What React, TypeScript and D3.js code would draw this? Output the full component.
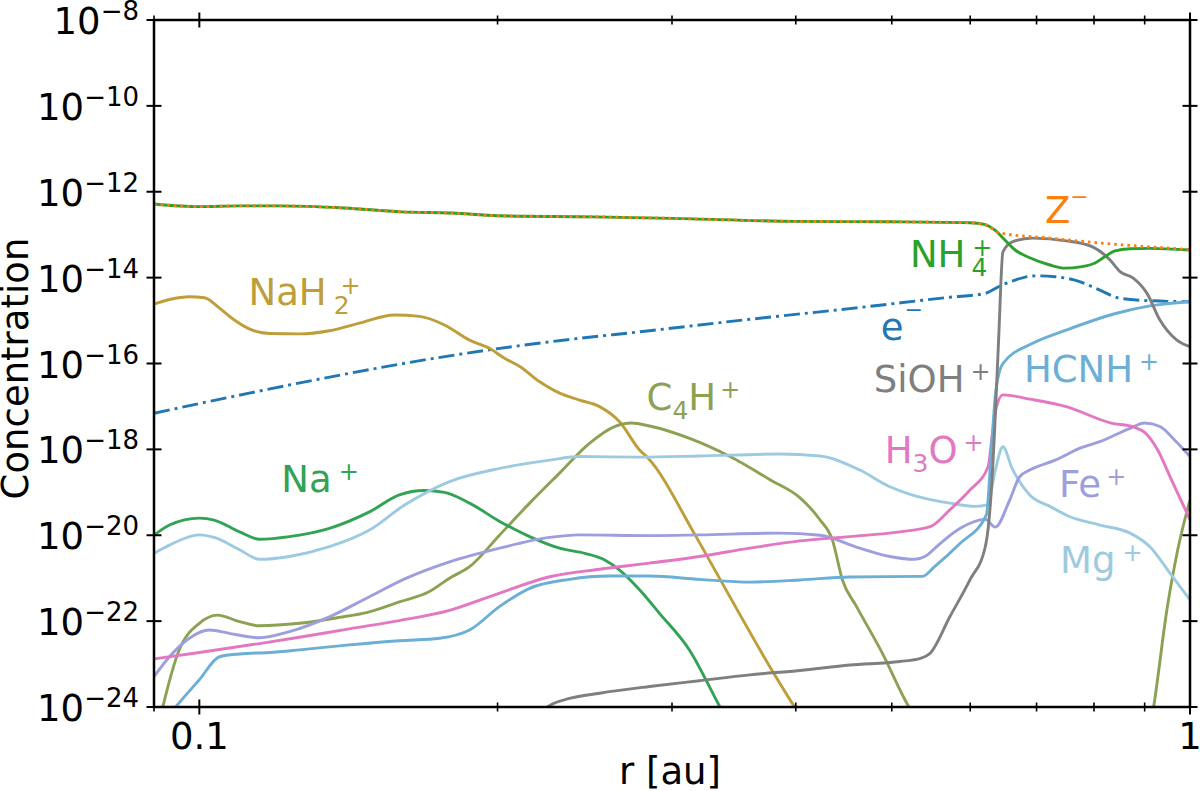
import React from 'react';
import * as d3 from 'd3';

type Pt = [number, number]; // [r in au, concentration]

// ---- data ----
const NH4: Pt[] = [
  [0.09, 5.2e-13], [0.1, 4.5e-13], [0.11, 4.7e-13], [0.12, 4.7e-13], [0.14, 4.2e-13],
  [0.16, 3.4e-13], [0.18, 3.2e-13], [0.2, 2.75e-13], [0.25, 2.6e-13], [0.3, 2.4e-13],
  [0.4, 2.04e-13], [0.5, 2.0e-13], [0.6, 1.9e-13], [0.62, 1.74e-13], [0.635, 1.29e-13],
  [0.65, 7.6e-14], [0.666, 4.4e-14], [0.689, 2.9e-14], [0.722, 1.97e-14], [0.748, 1.66e-14],
  [0.775, 1.78e-14], [0.802, 2.19e-14], [0.821, 3.1e-14], [0.84, 4.2e-14], [0.87, 4.7e-14],
  [0.911, 4.8e-14], [1.0, 4.4e-14],
];

const Z_MINUS: Pt[] = [
  [0.09, 5.2e-13], [0.1, 4.5e-13], [0.11, 4.7e-13], [0.12, 4.7e-13], [0.14, 4.2e-13],
  [0.16, 3.4e-13], [0.18, 3.2e-13], [0.2, 2.75e-13], [0.25, 2.6e-13], [0.3, 2.4e-13],
  [0.4, 2.04e-13], [0.5, 2.0e-13], [0.6, 1.9e-13], [0.62, 1.74e-13], [0.643, 1.1e-13],
  [0.722, 8.3e-14], [0.811, 6.4e-14], [0.911, 5.2e-14], [1.0, 4.5e-14],
];

const E_MINUS: Pt[] = [
  [0.09, 6.9e-18], [0.1, 1.17e-17], [0.1123, 2.04e-17], [0.1417, 5.9e-17], [0.1789, 1.51e-16],
  [0.2257, 3.2e-16], [0.2848, 5.8e-16], [0.3594, 1.07e-15], [0.4535, 1.9e-15], [0.5722, 3.5e-15],
  [0.6214, 4.3e-15], [0.643, 6.4e-15], [0.666, 8.8e-15], [0.698, 1.1e-14], [0.731, 1.05e-14],
  [0.775, 8.0e-15], [0.811, 5.1e-15], [0.85, 3.3e-15], [0.911, 2.9e-15], [1.0, 2.75e-15],
];

const NAH2: Pt[] = [
  [0.09, 2.43e-15], [0.0933, 3.1e-15], [0.0977, 3.6e-15], [0.1012, 3.4e-15], [0.1048, 1.95e-15],
  [0.1085, 1.03e-15], [0.1123, 6.4e-16], [0.1177, 5.0e-16], [0.1262, 4.9e-16], [0.1353, 5.8e-16],
  [0.1451, 8.7e-16], [0.1574, 1.35e-15], [0.1668, 1.25e-15], [0.1768, 7.9e-16], [0.1874, 3.5e-16],
  [0.1963, 2.26e-16], [0.2033, 1.32e-16], [0.2106, 8.5e-17], [0.2204, 3.8e-17], [0.231, 2.04e-17],
  [0.242, 1.41e-17], [0.2535, 9.9e-18], [0.2656, 4.4e-18], [0.2782, 9.7e-19], [0.2837, 6.3e-19],
  [0.3165, 1.02e-20], [0.3367, 8.1e-22], [0.3809, 5.6e-24], [0.3989, 1.0e-24], [0.4083, 4.5e-25],
];

const C4H: Pt[] = [
  [0.0907, 3e-25], [0.0954, 2.1e-23], [0.1, 8.9e-23], [0.1043, 1.38e-22], [0.1098, 9.7e-23],
  [0.115, 7.8e-23], [0.1262, 8.9e-23], [0.1384, 1.22e-22], [0.1485, 1.65e-22], [0.1592, 2.8e-22],
  [0.1707, 4.9e-22], [0.1789, 1.0e-21], [0.1874, 1.85e-21], [0.201, 1.02e-20], [0.2155, 5.6e-20],
  [0.231, 2.8e-19], [0.2476, 1.38e-18], [0.2625, 3.4e-18], [0.273, 4.1e-18], [0.2848, 3.5e-18],
  [0.3125, 1.8e-18], [0.3433, 6.8e-19], [0.3771, 1.94e-19], [0.404, 7.4e-20], [0.4231, 2.3e-20],
  [0.4356, 7.7e-21], [0.4458, 9.1e-22], [0.4606, 2.2e-22], [0.4891, 1.8e-23], [0.5204, 1.0e-24],
  [0.54, 3e-25], [0.6, 1e-27], [0.85, 1e-27], [0.9189, 1e-24], [0.9486, 2.1e-22],
  [0.9719, 4.6e-21], [1.0, 6.6e-20],
];

const NA: Pt[] = [
  [0.09, 1.0e-20], [0.0933, 1.73e-20], [0.1, 2.5e-20], [0.1035, 2.26e-20], [0.1098, 1.2e-20],
  [0.115, 8.1e-21], [0.1233, 9.3e-21], [0.1353, 1.45e-20], [0.1485, 3.5e-20], [0.1592, 8.7e-20],
  [0.1687, 1.1e-19], [0.1768, 1.0e-19], [0.1874, 5.6e-20], [0.201, 2.1e-20], [0.2155, 9.3e-21],
  [0.231, 5.0e-21], [0.245, 3.8e-21], [0.2566, 2.66e-21], [0.2656, 1.55e-21], [0.2782, 5.4e-22],
  [0.2914, 1.52e-22], [0.3125, 2.1e-23], [0.3354, 1.0e-24], [0.3433, 3.8e-25],
];

const MG: Pt[] = [
  [0.09, 3.8e-21], [0.0933, 5.9e-21], [0.1, 1.02e-20], [0.1035, 8.9e-21], [0.1098, 4.6e-21],
  [0.115, 2.75e-21], [0.1233, 3.2e-21], [0.1353, 5.4e-21], [0.1485, 1.32e-20], [0.161, 5.0e-20],
  [0.1789, 1.78e-19], [0.201, 3.6e-19], [0.2257, 5.6e-19], [0.242, 6.8e-19], [0.2782, 6.6e-19],
  [0.3197, 7.0e-19], [0.385, 7.8e-19], [0.4231, 7.0e-19], [0.4642, 3.3e-19], [0.4978, 1.35e-19],
  [0.5218, 9.0e-20], [0.5722, 5.6e-20], [0.6067, 4.7e-20], [0.6244, 5.1e-20], [0.636, 3.3e-19],
  [0.6474, 1.15e-18], [0.661, 3.7e-19], [0.689, 8.7e-20], [0.7222, 4.7e-20], [0.7568, 2.7e-20],
  [0.811, 1.73e-20], [0.87, 1.12e-20], [0.911, 5.4e-21], [0.9548, 1.3e-21], [1.0, 3.1e-22],
];

const FE: Pt[] = [
  [0.09, 5.1e-24], [0.0933, 1.48e-23], [0.0977, 4.0e-23], [0.1024, 6.2e-23], [0.1072, 5.2e-23],
  [0.115, 4.1e-23], [0.1233, 5.7e-23], [0.1353, 1.26e-22], [0.1485, 3.7e-22], [0.161, 9.5e-22],
  [0.1789, 2.4e-21], [0.201, 5.0e-21], [0.2257, 8.9e-21], [0.242, 1.02e-20], [0.2848, 9.8e-21],
  [0.3197, 1.02e-20], [0.385, 1.12e-20], [0.4231, 1.0e-20], [0.4642, 5.0e-21], [0.4978, 3.2e-21],
  [0.5275, 2.75e-21], [0.54, 3.2e-21], [0.5598, 6.5e-21], [0.5862, 1.45e-20], [0.6214, 2.34e-20],
  [0.636, 1.55e-20], [0.6576, 6.6e-20], [0.673, 2.3e-19], [0.689, 3.3e-19], [0.731, 5.6e-19],
  [0.7747, 1.07e-18], [0.811, 1.51e-18], [0.87, 3.1e-18], [0.9, 4.1e-18], [0.9325, 3.4e-18],
  [0.9648, 1.66e-18], [1.0, 6.8e-19],
];

const H3O: Pt[] = [
  [0.09, 1.32e-23], [0.1, 1.86e-23], [0.115, 3.0e-23], [0.1262, 4.2e-23], [0.1417, 6.6e-23],
  [0.1592, 1.03e-22], [0.1789, 1.78e-22], [0.201, 4.5e-22], [0.2257, 1.08e-21], [0.2535, 1.62e-21],
  [0.2848, 2.24e-21], [0.3197, 3.2e-21], [0.3594, 5.0e-21], [0.404, 7.4e-21], [0.4535, 9.3e-21],
  [0.5097, 1.2e-20], [0.5466, 1.58e-20], [0.5722, 3.9e-20], [0.5996, 1.13e-19], [0.6253, 3.9e-19],
  [0.6325, 2.8e-18], [0.6383, 1.07e-17], [0.6474, 1.86e-17], [0.689, 1.48e-17], [0.75, 9.9e-18],
  [0.8324, 4.1e-18], [0.8777, 3.3e-18], [0.9, 2.5e-18], [0.9277, 9.7e-19], [0.9548, 2.3e-19],
  [1.0, 2.3e-20],
];

const HCNH: Pt[] = [
  [0.0922, 5e-25], [0.0966, 1.74e-24], [0.1, 4.3e-24], [0.1048, 1.48e-23], [0.1098, 1.72e-23],
  [0.1177, 1.86e-23], [0.1262, 2.14e-23], [0.1417, 2.8e-23], [0.1592, 3.5e-23], [0.1748, 4.0e-23],
  [0.1874, 6.2e-23], [0.201, 2.2e-22], [0.2155, 5.8e-22], [0.2364, 9.4e-22], [0.2594, 1.12e-21],
  [0.2848, 1.12e-21], [0.3197, 9.4e-22], [0.3594, 8.1e-22], [0.404, 9.1e-22], [0.4535, 1.07e-21],
  [0.5366, 1.1e-21], [0.5523, 1.86e-21], [0.5862, 6.5e-21], [0.6228, 2.95e-20], [0.6311, 1.66e-18],
  [0.6369, 2.4e-17], [0.6474, 1.0e-16], [0.6937, 2.95e-16], [0.75, 6.0e-16], [0.8434, 1.48e-15],
  [0.911, 2.19e-15], [1.0, 2.75e-15],
];

const SIOH: Pt[] = [
  [0.215, 2e-25], [0.2246, 1e-24], [0.2364, 1.58e-24], [0.2535, 2.09e-24], [0.2848, 3.0e-24],
  [0.3197, 4.1e-24], [0.3594, 5.6e-24], [0.404, 7.1e-24], [0.4535, 9.5e-24], [0.5097, 1.15e-23],
  [0.5346, 1.36e-23], [0.5466, 1.78e-23], [0.5722, 1.26e-22], [0.5996, 9.1e-22], [0.6214, 5.4e-21],
  [0.6292, 6.6e-20], [0.635, 2.8e-18], [0.6409, 3.5e-16], [0.6474, 4.0e-14], [0.6625, 6.9e-14],
  [0.6937, 8.3e-14], [0.75, 7.2e-14], [0.7974, 5.2e-14], [0.8305, 2.57e-14], [0.85, 1.38e-14],
  [0.8764, 9.7e-15], [0.9049, 4.3e-15], [0.9325, 1.03e-15], [0.97, 3.5e-16], [1.0, 2.47e-16],
];

// ticks
const Y_TICK_EXP = [-24, -22, -20, -18, -16, -14, -12, -10, -8];
const X_MAJOR = [0.1, 1];
const X_MAJOR_LABELS = ['0.1', '1'];
const X_MINOR = [0.09, 0.2, 0.3, 0.4, 0.5, 0.6, 0.7, 0.8, 0.9];

const COLORS = {
  z: '#ff7f0e',
  nh4: '#2ca02c',
  e: '#1f77b4',
  nah2: '#bd9e39',
  c4h: '#8ca252',
  na: '#31a354',
  mg: '#9ecae1',
  fe: '#9c9ede',
  h3o: '#e377c2',
  hcnh: '#6baed6',
  sioh: '#7f7f7f',
};

const SERIES = [
  { key: 'e', data: E_MINUS, color: COLORS.e, dash: '16,5,3,5' },
  { key: 'nah2', data: NAH2, color: COLORS.nah2 },
  { key: 'c4h', data: C4H, color: COLORS.c4h },
  { key: 'na', data: NA, color: COLORS.na },
  { key: 'mg', data: MG, color: COLORS.mg },
  { key: 'fe', data: FE, color: COLORS.fe },
  { key: 'h3o', data: H3O, color: COLORS.h3o },
  { key: 'hcnh', data: HCNH, color: COLORS.hcnh },
  { key: 'sioh', data: SIOH, color: COLORS.sioh },
  { key: 'nh4', data: NH4, color: COLORS.nh4 },
  { key: 'z', data: Z_MINUS, color: COLORS.z, dash: '2.6,4' },
];

// species labels, anchored in data space at the text baseline start
const LABELS = [
  { main: 'NaH', sub: '2', subDx: 7, sup: '+', r: 0.1121, c: 2.3e-15, color: COLORS.nah2, supDx: -9 },
  { main: 'Z', sup: '\u2212', r: 0.7137, c: 1.87e-13, color: COLORS.z, supDx: 0, supDy: -19, small: true },
  { main: 'NH', sub: '4', subDx: 6, sup: '+', r: 0.5215, c: 1.77e-14, color: COLORS.nh4, supDx: -15 },
  { main: 'e', sup: '\u2212', r: 0.4874, c: 3.5e-16, color: COLORS.e, supDx: 1, supDy: -23, small: true },
  { main: 'SiOH', sup: '+', r: 0.4795, c: 2.17e-17, color: COLORS.sioh, supDx: 6 },
  { main: 'HCNH', sup: '+', r: 0.6797, c: 3.7e-17, color: COLORS.hcnh, supDx: 6 },
  { main: 'H', sub: '3', after: 'O', sup: '+', r: 0.4919, c: 4.8e-19, color: COLORS.h3o, supDx: 6 },
  { main: 'Fe', sup: '+', r: 0.7377, c: 7.8e-20, color: COLORS.fe, supDx: 5 },
  { main: 'Mg', sup: '+', r: 0.7394, c: 1.32e-21, color: COLORS.mg, supDx: 7 },
  { main: 'Na', sup: '+', r: 0.121, c: 1.02e-19, color: COLORS.na, supDx: 7 },
  { main: 'C', sub: '4', after: 'H', sup: '+', r: 0.2828, c: 8.3e-18, color: COLORS.c4h, supDx: 4 },
];

const W = 1200;
const H = 791;
const M = { left: 154, right: 1190, top: 20, bottom: 707 };
const FONT = 'DejaVu Sans, sans-serif';
const FS = 37;
const FS_SMALL = 25;

const App: React.FC = () => {
  const x = d3.scaleLog().domain([0.09, 1]).range([M.left, M.right]);
  const y = d3.scaleLog().domain([1e-24, 1e-8]).range([M.bottom, M.top]);

  const line = d3.line<Pt>()
    .x(d => x(d[0]))
    .y(d => y(d[1]))
    .curve(d3.curveMonotoneX);

  const majorLen = 7.5;
  const minorLen = 4.5;

  return (
    <svg
      width={W}
      height={H}
      viewBox={`0 0 ${W} ${H}`}
      style={{ position: 'absolute', left: 0, top: 0, background: '#fff' }}
      fontFamily={FONT}
    >
      <rect width={W} height={H} fill="#fff" />
      <defs>
        <clipPath id="plot-clip">
          <rect x={M.left} y={M.top} width={M.right - M.left} height={M.bottom - M.top} />
        </clipPath>
      </defs>

      {/* series */}
      <g clipPath="url(#plot-clip)">
        {SERIES.map(s => (
          <path
            key={s.key}
            d={line(s.data) || ''}
            fill="none"
            stroke={s.color}
            strokeWidth={2.9}
            strokeDasharray={s.dash}
            strokeLinejoin="round"
          />
        ))}
      </g>

      {/* species labels */}
      {LABELS.map((l, i) => {
        const supSize = l.small ? 22 : 24;
        const subDy = 9;
        let supDy = l.supDy ?? -12;
        if (l.sub && !l.after) supDy = -subDy - 11;
        return (
          <text key={i} x={x(l.r)} y={y(l.c)} fill={l.color} fontSize={FS}>
            {l.main}
            {l.sub && <tspan fontSize={FS_SMALL} dx={l.subDx ?? 0} dy={subDy}>{l.sub}</tspan>}
            {l.after && <tspan fontSize={FS} dy={-subDy}>{l.after}</tspan>}
            {l.sup && (
              <tspan fontSize={supSize} dx={l.supDx} dy={supDy}>{l.sup}</tspan>
            )}
          </text>
        );
      })}

      {/* spines */}
      <rect
        x={M.left}
        y={M.top}
        width={M.right - M.left}
        height={M.bottom - M.top}
        fill="none"
        stroke="#000"
        strokeWidth={2.5}
      />

      {/* y ticks + labels */}
      {Y_TICK_EXP.map(e => {
        const ty = y(Math.pow(10, e));
        return (
          <g key={e}>
            <line x1={M.left - majorLen} x2={M.left + majorLen} y1={ty} y2={ty} stroke="#000" strokeWidth={2} />
            <line x1={M.right - majorLen} x2={M.right + majorLen} y1={ty} y2={ty} stroke="#000" strokeWidth={2} />
            <text x={139} y={ty + 14} textAnchor="end" fontSize={FS} fill="#000">
              10<tspan fontSize={26} dy={-14}>{'\u2212' + Math.abs(e)}</tspan>
            </text>
          </g>
        );
      })}

      {/* x ticks */}
      {X_MAJOR.map((v, i) => {
        const tx = x(v);
        return (
          <g key={v}>
            <line x1={tx} x2={tx} y1={M.bottom - majorLen} y2={M.bottom + majorLen} stroke="#000" strokeWidth={2} />
            <line x1={tx} x2={tx} y1={M.top - majorLen} y2={M.top + majorLen} stroke="#000" strokeWidth={2} />
            <text x={tx} y={749} textAnchor="middle" fontSize={FS} fill="#000">{X_MAJOR_LABELS[i]}</text>
          </g>
        );
      })}
      {X_MINOR.map(v => {
        const tx = x(v);
        return (
          <g key={v}>
            <line x1={tx} x2={tx} y1={M.bottom - minorLen} y2={M.bottom + minorLen} stroke="#000" strokeWidth={1.6} />
            <line x1={tx} x2={tx} y1={M.top - minorLen} y2={M.top + minorLen} stroke="#000" strokeWidth={1.6} />
          </g>
        );
      })}

      {/* axis titles */}
      <text x={670} y={784} textAnchor="middle" fontSize={FS} fill="#000">r [au]</text>
      <text
        transform={`translate(28, ${(M.top + M.bottom) / 2 + 5}) rotate(-90)`}
        textAnchor="middle"
        fontSize={FS}
        fill="#000"
      >
        Concentration
      </text>
    </svg>
  );
};

export default App;
